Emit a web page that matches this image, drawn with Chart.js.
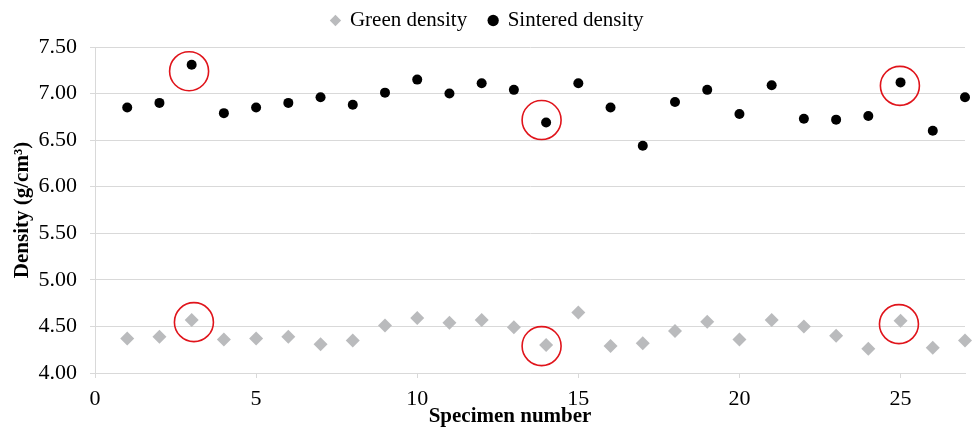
<!DOCTYPE html>
<html><head><meta charset="utf-8">
<script src="https://cdn.jsdelivr.net/npm/chart.js@4/dist/chart.umd.min.js"></script>
<style>html,body{margin:0;padding:0;background:#fff}#wrap{width:973px;height:429px}</style>
</head><body><div id="wrap"><canvas id="c" width="973" height="429"></canvas></div>
<script>
const specimens = [1,2,3,4,5,6,7,8,9,10,11,12,13,14,15,16,17,18,19,20,21,22,23,24,25,26,27];
const greenDensity = [4.37,4.39,4.57,4.36,4.37,4.39,4.31,4.35,4.51,4.59,4.54,4.57,4.49,4.30,4.65,4.29,4.32,4.45,4.55,4.36,4.57,4.50,4.40,4.26,4.56,4.27,4.35];
const sinteredDensity = [6.85,6.90,7.31,6.79,6.85,6.90,6.96,6.88,7.01,7.15,7.00,7.11,7.04,6.69,7.11,6.85,6.44,6.91,7.04,6.78,7.09,6.73,6.72,6.76,7.12,6.60,6.96];
const highlightX = [2.92,3.07,13.86,13.86,24.98,24.95];
const highlightY = [7.24,4.546,6.716,4.289,7.083,4.525];
const yTicks = [4.0,4.5,5.0,5.5,6.0,6.5,7.0,7.5];
const xTicks = [0,5,10,15,20,25];
const seriesNames = ['Green density','Sintered density'];

Chart.defaults.font.family = '"Liberation Serif","Times New Roman",serif';
Chart.defaults.color = '#000';

const layoutTweaks = {
  id:'layoutTweaks',
  beforeInit(chart){
    const lg = chart.legend;
    if (lg && !lg._patched){
      const orig = lg.fit;
      lg.fit = function(){ orig.call(this); this.height = 47; };
      lg._patched = true;
    }
  },
  afterLayout(chart){
    const lg = chart.legend;
    if (lg){ lg.left += 5; lg.right += 5; lg.top -= 12; lg.bottom -= 12; }
  }
};

function shiftTitle(ax, dx){
  if (ax._titlePatched) return;
  const orig = ax.drawTitle;
  ax.drawTitle = function(){
    this.left += dx; this.right += dx;
    try { orig.apply(this, arguments); } finally { this.left -= dx; this.right -= dx; }
  };
  ax._titlePatched = true;
}

const gridColor = '#d9d9d9';
new Chart(document.getElementById('c'), {
  type: 'scatter',
  data: {
    datasets: [
      { label: seriesNames[0], data: specimens.map((s,i)=>({x:s,y:greenDensity[i]})),
        pointStyle:'rectRot', pointRadius:7, backgroundColor:'#babbbd', borderColor:'#babbbd', borderWidth:0, clip:false },
      { label: seriesNames[1], data: specimens.map((s,i)=>({x:s,y:sinteredDensity[i]})),
        pointStyle:'circle', pointRadius:5, backgroundColor:'#000', borderColor:'#000', borderWidth:0, clip:false },
      { label: 'highlight', data: highlightX.map((x,i)=>({x:x,y:highlightY[i]})),
        pointStyle:'circle', pointRadius:19.5, backgroundColor:'rgba(0,0,0,0)', borderColor:'#e0141b', borderWidth:1.6, clip:false }
    ]
  },
  plugins:[layoutTweaks],
  options: {
    responsive:false, animation:false,
    layout:{autoPadding:false, padding:{left:0,right:8,top:0,bottom:0}},
    plugins:{
      tooltip:{enabled:false},
      legend:{position:'top',
        labels:{usePointStyle:true, boxHeight:8, boxWidth:8, padding:22, font:{size:21},
          filter:(item)=>item.datasetIndex<2}}
    },
    scales:{
      x:{type:'linear', min:0, max:27,
        afterBuildTicks:(ax)=>{ax.ticks=xTicks.map(v=>({value:v}));},
        afterFit:(ax)=>{ax.height=56; ax.paddingLeft=0; ax.paddingRight=0; shiftTitle(ax,-20);},
        grid:{drawOnChartArea:false, drawTicks:true, tickLength:5, color:gridColor},
        border:{color:gridColor},
        ticks:{font:{size:22}, padding:8, maxRotation:0},
        title:{display:true, text:'Specimen number', font:{size:21, weight:'bold'}, padding:{top:0,bottom:0}}
      },
      y:{type:'linear', min:4, max:7.5,
        afterBuildTicks:(ax)=>{ax.ticks=yTicks.map(v=>({value:v}));},
        afterFit:(ax)=>{ax.width=95;},
        grid:{color:gridColor, tickLength:5},
        border:{color:gridColor},
        ticks:{font:{size:22}, padding:13, callback:(v)=>Number(v).toFixed(2)},
        title:{display:true, text:'Density (g/cm³)', font:{size:21, weight:'bold'}, padding:{top:10,bottom:0}}
      }
    }
  }
});
</script></body></html>
